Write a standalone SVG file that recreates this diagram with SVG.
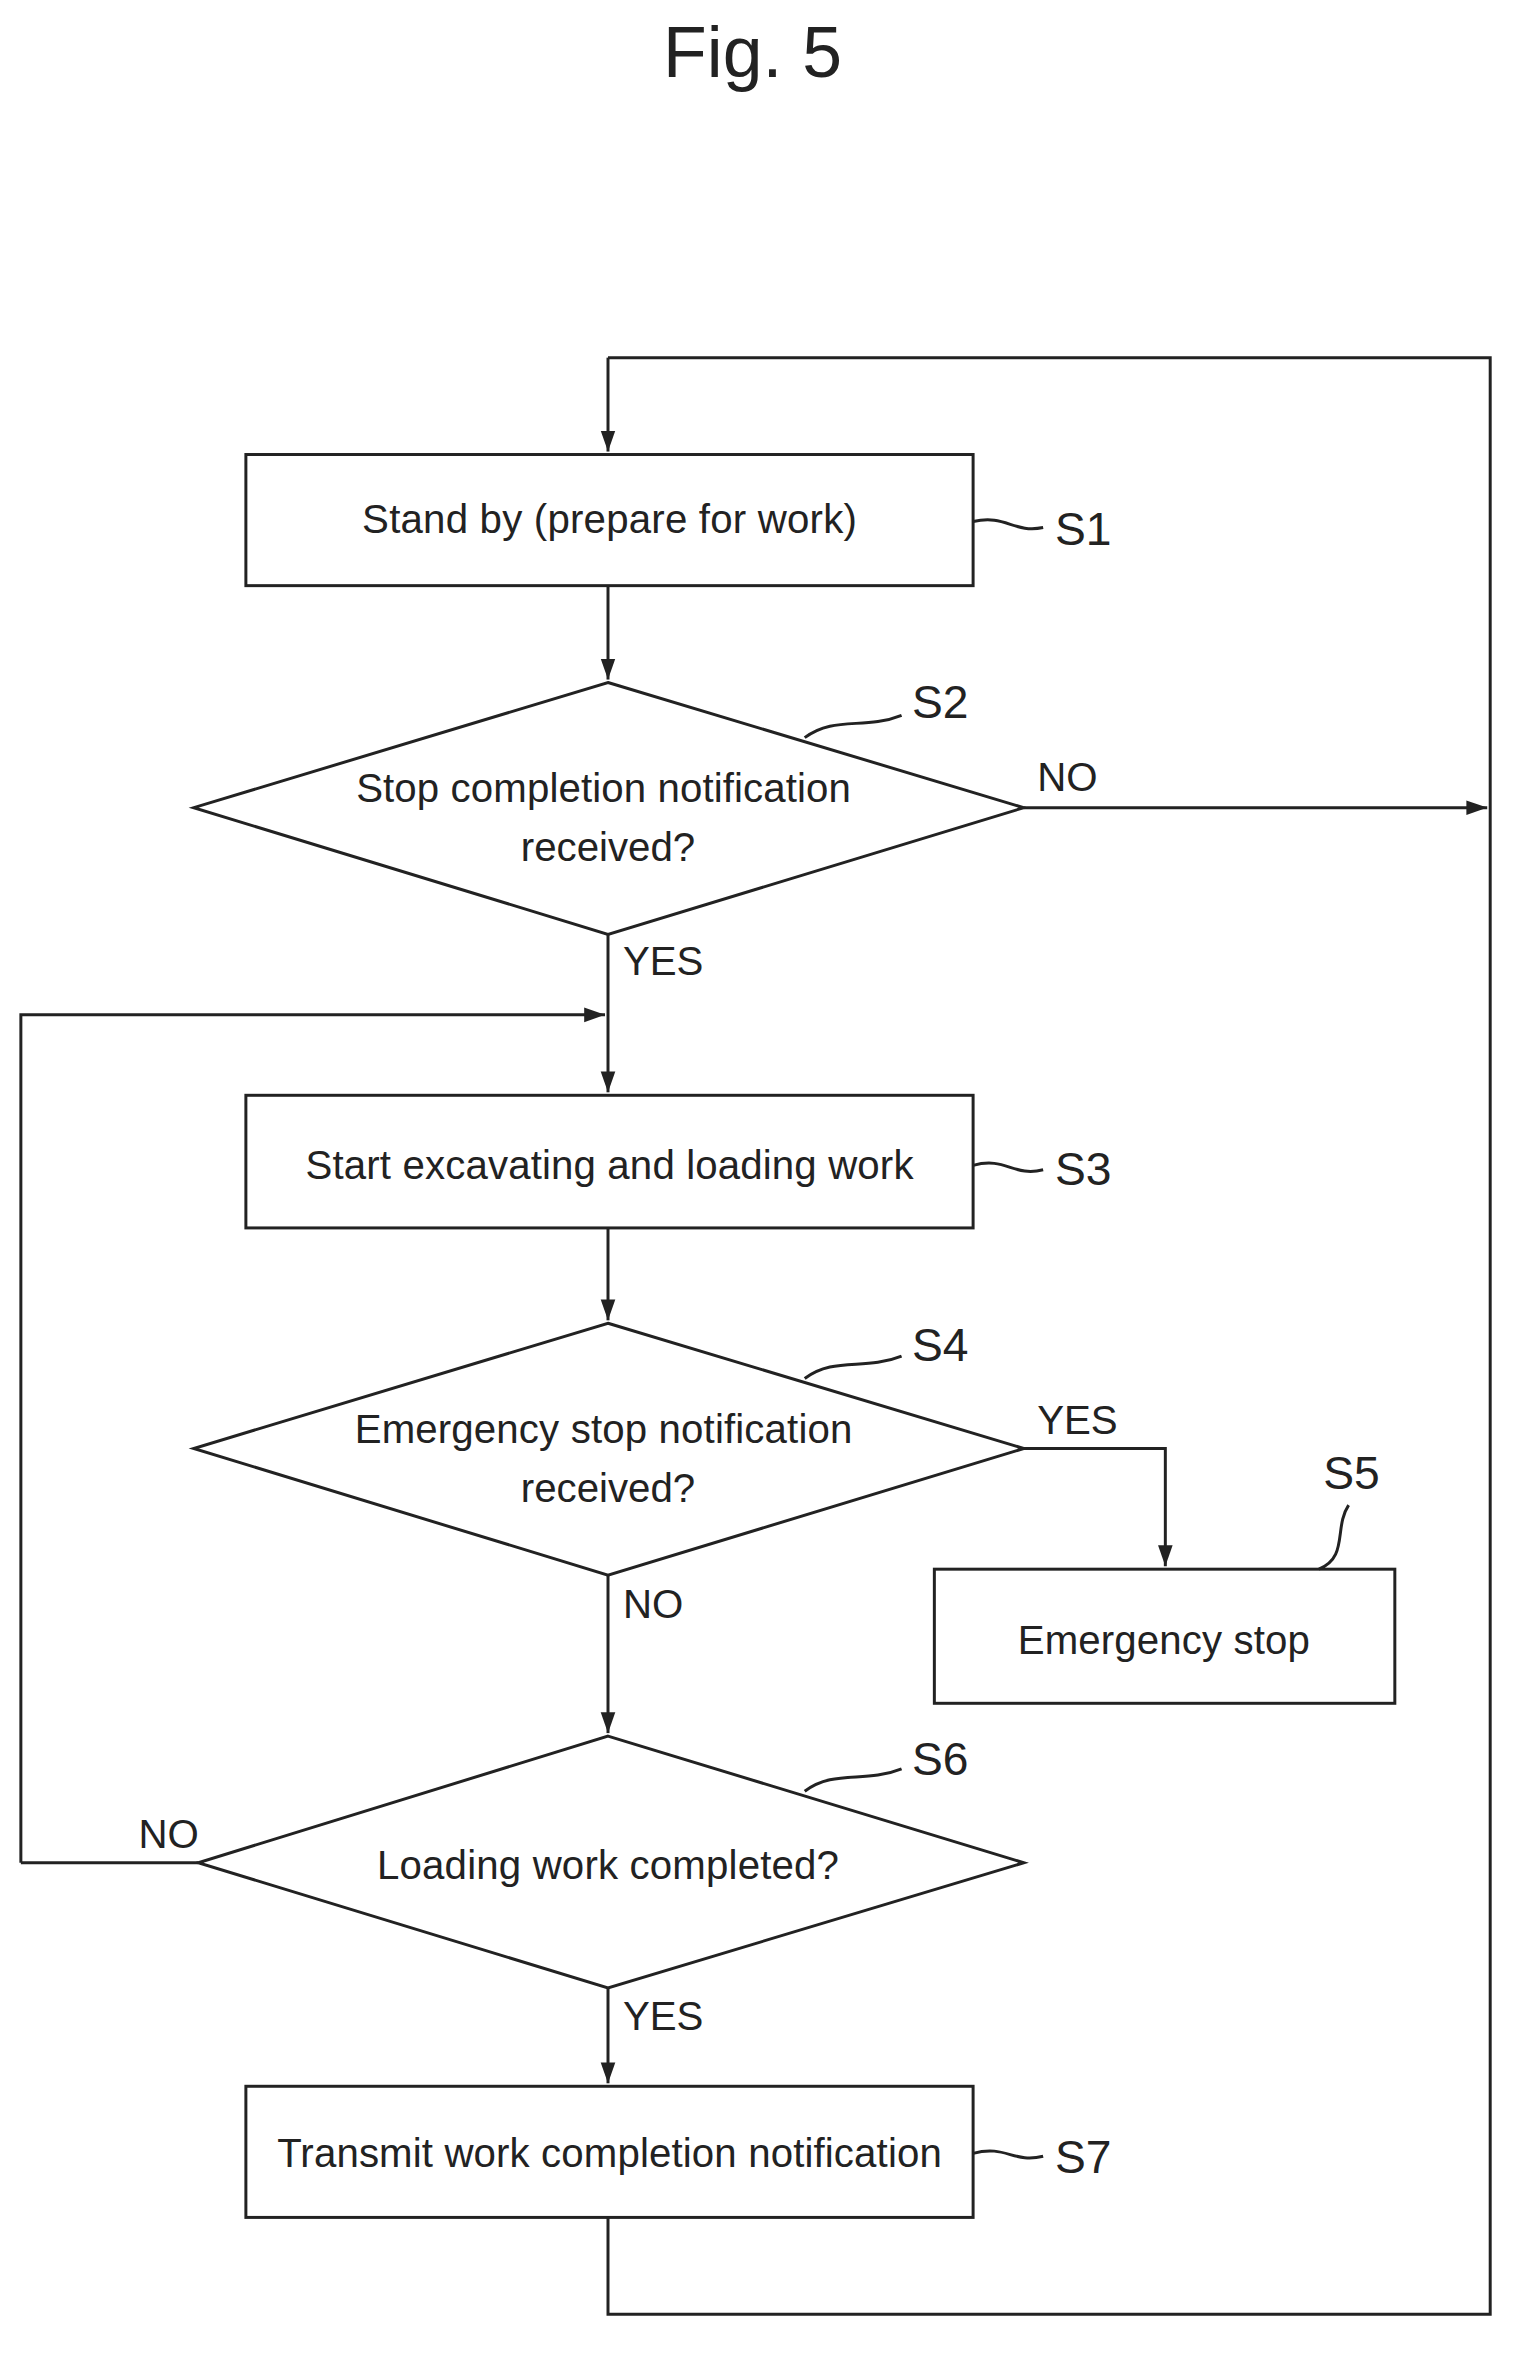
<svg xmlns="http://www.w3.org/2000/svg" width="1526" height="2357" viewBox="0 0 1526 2357">
<defs>
<marker id="ah" viewBox="0 0 10 10" refX="10" refY="5" markerWidth="14" markerHeight="14" markerUnits="userSpaceOnUse" orient="auto"><path d="M0,1.5 L10,5 L0,8.5 z" fill="#222"/></marker>
<style>
.s{fill:none;stroke:#222;stroke-width:2}
.b{fill:#fff;stroke:#222;stroke-width:2}
.t{font-family:"Liberation Sans",Arial,sans-serif;font-size:27px;fill:#222;text-anchor:middle}
.l{font-family:"Liberation Sans",Arial,sans-serif;font-size:27px;fill:#222}
.n{font-family:"Liberation Sans",Arial,sans-serif;font-size:31px;fill:#222}
</style>
</defs>
<rect width="1526" height="2357" fill="#fff"/>
<g transform="scale(1.4902)">
<text x="505" y="52" class="t" style="font-size:48px">Fig. 5</text>
<g id="connectors">
<path class="s" d="M408,240 H1000 V1553 H408 V1488"/>
<path class="s" d="M408,240 V303" marker-end="url(#ah)"/>
<path class="s" d="M408,393 V456" marker-end="url(#ah)"/>
<path class="s" d="M687,542 H998" marker-end="url(#ah)"/>
<path class="s" d="M408,627 V733" marker-end="url(#ah)"/>
<path class="s" d="M14,1250 V681 H406" marker-end="url(#ah)"/>
<path class="s" d="M14,1250 H133"/>
<path class="s" d="M408,824 V886" marker-end="url(#ah)"/>
<path class="s" d="M687,972 H782 V1051" marker-end="url(#ah)"/>
<path class="s" d="M408,1057 V1163" marker-end="url(#ah)"/>
<path class="s" d="M408,1334 V1398" marker-end="url(#ah)"/>
<text class="l" x="696" y="531">NO</text>
<text class="l" x="418" y="654">YES</text>
<text class="l" x="696" y="962">YES</text>
<text class="l" x="418" y="1086">NO</text>
<text class="l" x="93" y="1240">NO</text>
<text class="l" x="418" y="1362">YES</text>
</g>
<g id="S1"><rect class="b" x="165" y="305" width="488" height="88"/><text class="t" x="409" y="358" textLength="332">Stand by (prepare for work)</text>
<path class="s" d="M653,350 C675,345 680,358 700,354"/><text class="n" x="708" y="366">S1</text></g>
<g id="S2"><polygon class="b" points="408,458 687,542 408,627 130,542"/><text class="t" x="405" y="538" textLength="332">Stop completion notification</text><text class="t" x="408" y="578">received?</text>
<path class="s" d="M540,495 C560,480 580,490 605,480"/><text class="n" x="612" y="482">S2</text></g>
<g id="S3"><rect class="b" x="165" y="735" width="488" height="89"/><text class="t" x="409" y="791" textLength="408">Start excavating and loading work</text>
<path class="s" d="M653,782 C675,776 680,790 700,785"/><text class="n" x="708" y="795">S3</text></g>
<g id="S4"><polygon class="b" points="408,888 687,972 408,1057 130,972"/><text class="t" x="405" y="968" textLength="334">Emergency stop notification</text><text class="t" x="408" y="1008">received?</text>
<path class="s" d="M540,925 C560,910 580,920 605,910"/><text class="n" x="612" y="913">S4</text></g>
<g id="S5"><rect class="b" x="627" y="1053" width="309" height="90"/><text class="t" x="781" y="1110" textLength="196">Emergency stop</text>
<path class="s" d="M885,1053 C905,1045 895,1025 905,1010"/><text class="n" x="888" y="999">S5</text></g>
<g id="S6"><polygon class="b" points="408,1165 687,1250 408,1334 133,1250"/><text class="t" x="408" y="1261" textLength="310">Loading work completed?</text>
<path class="s" d="M540,1202 C560,1187 580,1197 605,1187"/><text class="n" x="612" y="1191">S6</text></g>
<g id="S7"><rect class="b" x="165" y="1400" width="488" height="88"/><text class="t" x="409" y="1454" textLength="446">Transmit work completion notification</text>
<path class="s" d="M653,1445 C675,1439 680,1452 700,1447"/><text class="n" x="708" y="1458">S7</text></g>
</g>
</svg>
